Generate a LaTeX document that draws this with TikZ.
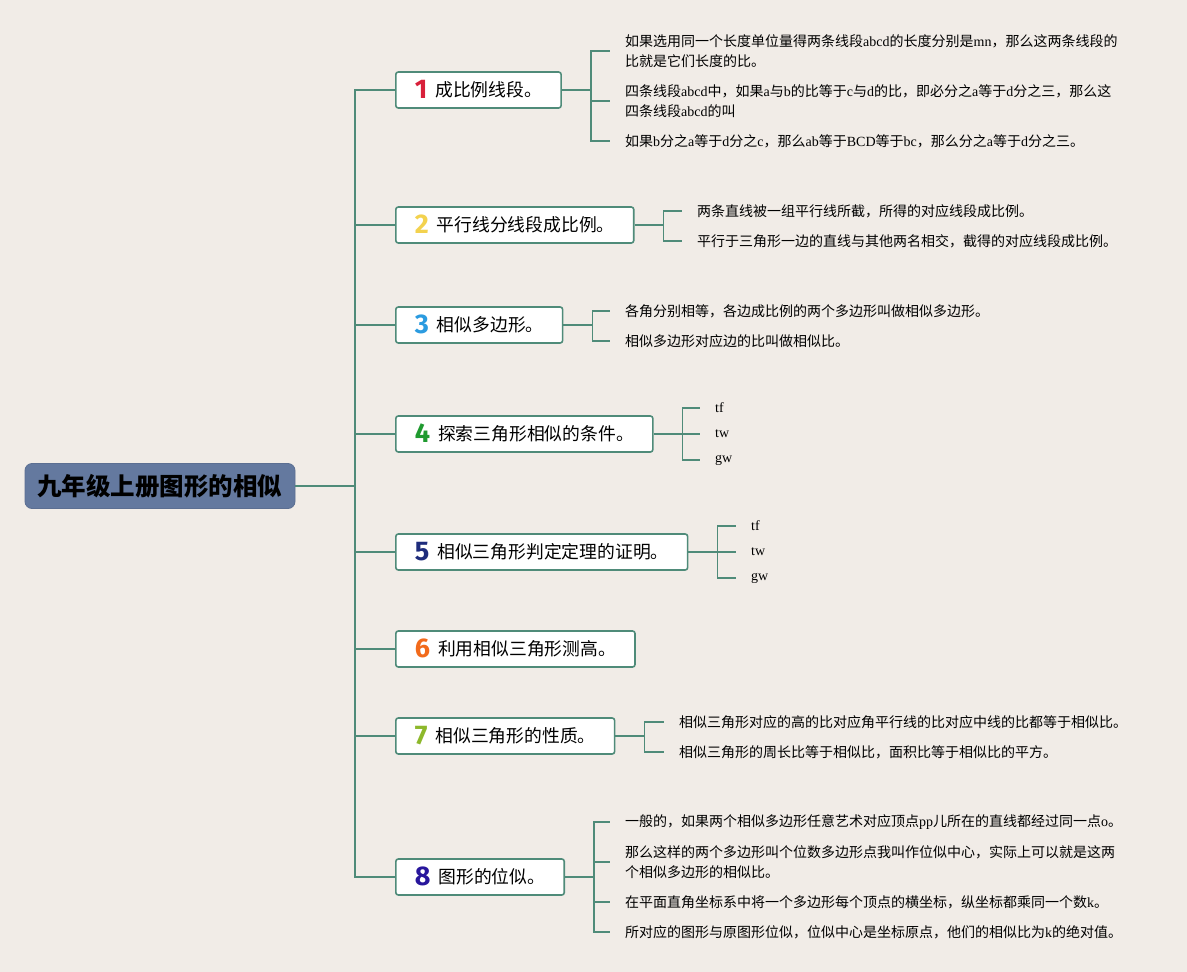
\documentclass[tikz,border=0pt]{standalone}
\usepackage{fontspec}
\setmainfont{Noto Sans CJK SC}
\newfontfamily\latfont{Liberation Serif}
\newfontfamily\numfont{Fira Sans}
\newcommand{\lat}[1]{{\latfont #1}}
\newcommand{\numb}[2]{{\numfont\bfseries\fontsize{27}{27}\selectfont\color{#1}\smash{\raisebox{-1.5pt}{#2}}}\hspace{8pt}}
\definecolor{bgbeige}{HTML}{F1ECE7}
\definecolor{rootblue}{HTML}{64799F}
\definecolor{linkgreen}{HTML}{4F8B79}
\definecolor{nred}{HTML}{D8203A}
\definecolor{nyellow}{HTML}{F3D24E}
\definecolor{nblue}{HTML}{2B9BE0}
\definecolor{ngreen}{HTML}{1F9A2F}
\definecolor{nnavy}{HTML}{1E2C7C}
\definecolor{norange}{HTML}{F26A1B}
\definecolor{nlime}{HTML}{8DB82B}
\definecolor{nindigo}{HTML}{28169C}
\usetikzlibrary{positioning}
\tikzset{
  root/.style={rectangle, rounded corners=7pt, fill=rootblue, draw=rootblue!92!black,
    line width=0.8pt, minimum width=270pt, minimum height=45pt,
    font=\fontsize{24.5}{27}\selectfont\bfseries},
  topic/.style={rectangle, rounded corners=2.5pt, draw=linkgreen, line width=1.6pt,
    fill=white, minimum height=36pt, inner xsep=19pt, anchor=west,
    font=\fontsize{17.8}{20}\selectfont},
  leaf/.style={anchor=west, inner sep=0pt, align=left,
    font=\fontsize{14}{20}\selectfont},
  link/.style={draw=linkgreen, line width=1.6pt},
}
\begin{document}
\begin{tikzpicture}[x=1pt,y=-1pt]
  \fill[bgbeige] (0,0) rectangle (1187,972);
  \useasboundingbox (0,0) rectangle (1187,972);
  % root and spine
  \node[root] (root) at (160,486) {九年级上册图形的相似};
  \coordinate (sp) at (355,486);
  % topics
  \node[topic] (t1) at (395,90) {\numb{nred}{1}成比例线段。};
  \node[topic] (t2) at (395,225) {\numb{nyellow}{2}平行线分线段成比例。};
  \node[topic] (t3) at (395,325) {\numb{nblue}{3}相似多边形。};
  \node[topic] (t4) at (395,434) {\numb{ngreen}{4}探索三角形相似的条件。};
  \node[topic] (t5) at (395,552) {\numb{nnavy}{5}相似三角形判定定理的证明。};
  \node[topic] (t6) at (395,649) {\numb{norange}{6}利用相似三角形测高。};
  \node[topic] (t7) at (395,736) {\numb{nlime}{7}相似三角形的性质。};
  \node[topic] (t8) at (395,877) {\numb{nindigo}{8}图形的位似。};
  \draw[link] (root.east) -- (sp);
  \foreach \i in {1,...,8}
    \draw[link] (sp) |- (t\i.west);
  % leaves of 1
  \node[leaf] (l1a) at (625,51) {如果选用同一个长度单位量得两条线段\lat{abcd}的长度分别是\lat{mn}，那么这两条线段的\\比就是它们长度的比。};
  \node[leaf] (l1b) at (625,101) {四条线段\lat{abcd}中，如果\lat{a}与\lat{b}的比等于\lat{c}与\lat{d}的比，即必分之\lat{a}等于\lat{d}分之三，那么这\\四条线段\lat{abcd}的叫};
  \node[leaf] (l1c) at (625,141) {如果\lat{b}分之\lat{a}等于\lat{d}分之\lat{c}，那么\lat{ab}等于\lat{BCD}等于\lat{bc}，那么分之\lat{a}等于\lat{d}分之三。};
  \draw[link] (t1.east) -- ++(29,0) coordinate (j1);
  \foreach \l in {l1a,l1b,l1c}
    \draw[link] (j1) |- ([xshift=-15pt]\l.west);
  % leaves of 2
  \node[leaf] (l2a) at (697,211) {两条直线被一组平行线所截，所得的对应线段成比例。};
  \node[leaf] (l2b) at (697,241) {平行于三角形一边的直线与其他两名相交，截得的对应线段成比例。};
  \draw[link] (t2.east) -- ++(29,0) coordinate (j2);
  \foreach \l in {l2a,l2b}
    \draw[link] (j2) |- ([xshift=-15pt]\l.west);
  % leaves of 3
  \node[leaf] (l3a) at (625,311) {各角分别相等，各边成比例的两个多边形叫做相似多边形。};
  \node[leaf] (l3b) at (625,341) {相似多边形对应边的比叫做相似比。};
  \draw[link] (t3.east) -- ++(29,0) coordinate (j3);
  \foreach \l in {l3a,l3b}
    \draw[link] (j3) |- ([xshift=-15pt]\l.west);
  % leaves of 4
  \node[leaf] (l4a) at (715,408) {\lat{tf}};
  \node[leaf] (l4b) at (715,434) {\lat{tw}};
  \node[leaf] (l4c) at (715,460) {\lat{gw}};
  \draw[link] (t4.east) -- ++(29,0) coordinate (j4);
  \foreach \l in {l4a,l4b,l4c}
    \draw[link] (j4) |- ([xshift=-15pt]\l.west);
  % leaves of 5
  \node[leaf] (l5a) at (751,526) {\lat{tf}};
  \node[leaf] (l5b) at (751,552) {\lat{tw}};
  \node[leaf] (l5c) at (751,578) {\lat{gw}};
  \draw[link] (t5.east) -- ++(29,0) coordinate (j5);
  \foreach \l in {l5a,l5b,l5c}
    \draw[link] (j5) |- ([xshift=-15pt]\l.west);
  % leaves of 7
  \node[leaf] (l7a) at (679,722) {相似三角形对应的高的比对应角平行线的比对应中线的比都等于相似比。};
  \node[leaf] (l7b) at (679,752) {相似三角形的周长比等于相似比，面积比等于相似比的平方。};
  \draw[link] (t7.east) -- ++(29,0) coordinate (j7);
  \foreach \l in {l7a,l7b}
    \draw[link] (j7) |- ([xshift=-15pt]\l.west);
  % leaves of 8
  \node[leaf] (l8a) at (625,822) {一般的，如果两个相似多边形任意艺术对应顶点\lat{pp}儿所在的直线都经过同一点\lat{o}。};
  \node[leaf] (l8b) at (625,862) {那么这样的两个多边形叫个位数多边形点我叫作位似中心，实际上可以就是这两\\个相似多边形的相似比。};
  \node[leaf] (l8c) at (625,902) {在平面直角坐标系中将一个多边形每个顶点的横坐标，纵坐标都乘同一个数\lat{k}。};
  \node[leaf] (l8d) at (625,932) {所对应的图形与原图形位似，位似中心是坐标原点，他们的相似比为\lat{k}的绝对值。};
  \draw[link] (t8.east) -- ++(29,0) coordinate (j8);
  \foreach \l in {l8a,l8b,l8c,l8d}
    \draw[link] (j8) |- ([xshift=-15pt]\l.west);
\end{tikzpicture}
\end{document}
